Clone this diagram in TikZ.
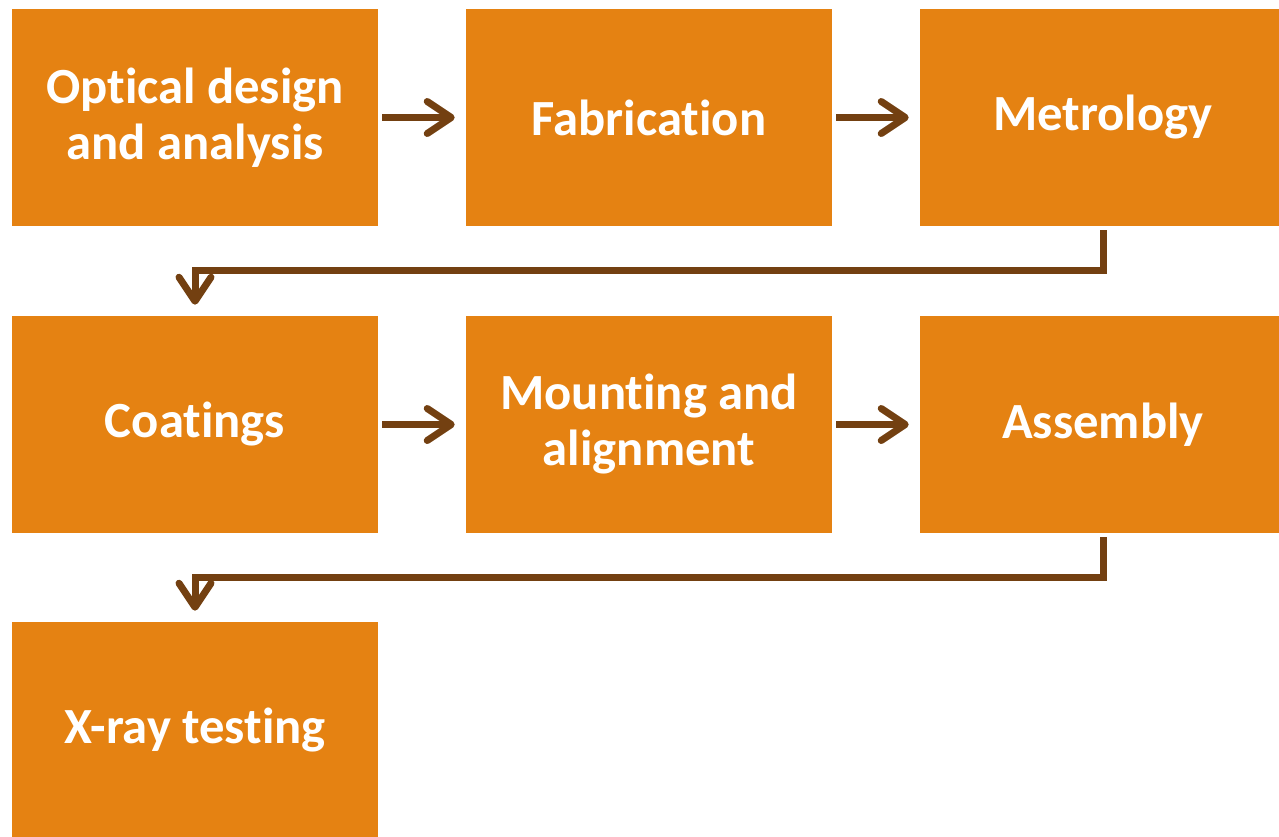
\documentclass[tikz,border=0pt]{standalone}
\usepackage{fontspec}
\setmainfont{Carlito}[Ligatures=NoCommon]
\usetikzlibrary{arrows.meta,positioning}
\definecolor{stagefill}{RGB}{229,130,18}
\definecolor{flowbrown}{RGB}{115,64,17}

\begin{document}
\begin{tikzpicture}[x=0.75pt,y=0.75pt,>={Straight Barb[length=18pt,width=24pt,round]},
  stage/.style={fill=stagefill,minimum width=274.5pt,minimum height=162.75pt,inner sep=0pt,
    text=white,align=center,font=\bfseries\fontsize{38}{42}\selectfont},
  flow/.style={->,line width=5.25pt,draw=flowbrown,shorten <=3pt,shorten >=8.25pt}]
\useasboundingbox (0,0) rectangle (1279,-836);
% three rows of process stages
\node[stage] (design) at (195,-117.5) {Optical design\\and analysis};
\node[stage] (fab) at (649,-117.5) {Fabrication};
\node[stage] (metro) at (1103,-117.5) {Metrology};
\node[stage] (coat) at (195,-424.5) {Coatings};
\node[stage] (mount) at (649,-424.5) {Mounting and\\alignment};
\node[stage] (assembly) at (1103,-424.5) {Assembly};
\node[stage] (xray) at (195,-730.5) {X-ray testing};
% arrows along each row
\draw[flow] (design) -- (fab);
\draw[flow] (fab) -- (metro);
\draw[flow] (coat) -- (mount);
\draw[flow] (mount) -- (assembly);
% wrap to the next row
\draw[flow] (metro.south) -- ++(0,-44) -| (coat.north);
\draw[flow] (assembly.south) -- ++(0,-44) -| (xray.north);
\end{tikzpicture}
\end{document}
